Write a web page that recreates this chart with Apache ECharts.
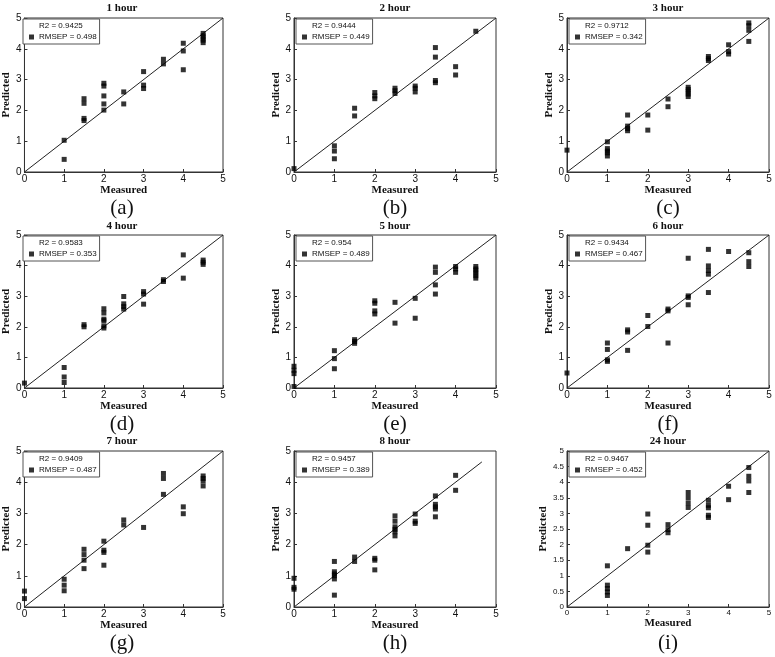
<!DOCTYPE html>
<html>
<head>
<meta charset="utf-8">
<script src="https://cdn.jsdelivr.net/npm/echarts@6/dist/echarts.min.js"></script>
<style>html,body{margin:0;padding:0;background:#fff;}#c{width:775px;height:657px;}</style>
</head>
<body>
<div id="c"></div>
<script>
// ---- data ----
const titles = ['1 hour','2 hour','3 hour','4 hour','5 hour','6 hour','7 hour','8 hour','24 hour'];
const panelLabels = ['(a)','(b)','(c)','(d)','(e)','(f)','(g)','(h)','(i)'];
const r2Values = ['0.9425','0.9444','0.9712','0.9583','0.954','0.9434','0.9409','0.9457','0.9467'];
const rmsepValues = ['0.498','0.449','0.342','0.353','0.489','0.467','0.487','0.389','0.452'];
const fitLineEnd = [5,5,5,5,5,5,5,4.65,5];

const data1h = [[1,1.03],[1,0.41],[1.5,2.38],[1.5,2.23],[1.5,1.74],[1.5,1.67],[2,2.88],[2,2.79],[2,2.47],[2,2.21],[2,2.01],[2.5,2.6],[2.5,2.21],[3,3.26],[3,2.82],[3,2.71],[3.5,3.66],[3.5,3.51],[4,4.18],[4,3.93],[4,3.32],[4.5,4.5],[4.5,4.42],[4.5,4.35],[4.5,4.28],[4.5,4.2]];
const data2h = [[0,0.11],[1,0.85],[1,0.68],[1,0.43],[1.5,2.07],[1.5,1.82],[2,2.58],[2,2.47],[2,2.38],[2.5,2.72],[2.5,2.64],[2.5,2.55],[3,2.79],[3,2.72],[3,2.6],[3.5,4.04],[3.5,3.73],[3.5,2.97],[3.5,2.9],[4,3.42],[4,3.15],[4.5,4.57]];
const data3h = [[0,0.71],[1,0.98],[1,0.76],[1,0.68],[1,0.62],[1,0.52],[1.5,1.85],[1.5,1.49],[1.5,1.41],[1.5,1.34],[2,1.85],[2,1.36],[2.5,2.37],[2.5,2.12],[3,2.75],[3,2.68],[3,2.61],[3,2.53],[3,2.45],[3.5,3.75],[3.5,3.68],[3.5,3.62],[4,4.13],[4,3.91],[4,3.83],[4.5,4.84],[4.5,4.75],[4.5,4.6],[4.5,4.24]];
const data4h = [[0,0.16],[1,0.67],[1,0.36],[1,0.18],[1.5,2.07],[1.5,2.0],[2,2.59],[2,2.45],[2,2.25],[2,2.2],[2,2.03],[2,1.96],[2.5,2.99],[2.5,2.75],[2.5,2.66],[2.5,2.58],[3,3.15],[3,3.07],[3,2.74],[3.5,3.54],[3.5,3.48],[4,4.35],[4,3.59],[4.5,4.18],[4.5,4.11],[4.5,4.04]];
const data5h = [[0,0.71],[0,0.58],[0,0.47],[0,0.05],[1,1.22],[1,0.96],[1,0.63],[1.5,1.58],[1.5,1.52],[1.5,1.46],[2,2.85],[2,2.77],[2,2.52],[2,2.42],[2.5,2.8],[2.5,2.12],[3,2.93],[3,2.28],[3.5,3.95],[3.5,3.78],[3.5,3.37],[3.5,3.07],[4,3.97],[4,3.89],[4,3.78],[4.5,3.97],[4.5,3.89],[4.5,3.83],[4.5,3.75],[4.5,3.67],[4.5,3.59]];
const data6h = [[0,0.49],[1,1.47],[1,1.26],[1,0.92],[1,0.87],[1.5,1.9],[1.5,1.83],[1.5,1.23],[2,2.37],[2,2.01],[2.5,2.58],[2.5,2.52],[2.5,1.47],[3,4.24],[3,3.01],[3,2.96],[3,2.72],[3.5,4.53],[3.5,3.99],[3.5,3.84],[3.5,3.72],[3.5,3.12],[4,4.46],[4.5,4.42],[4.5,4.13],[4.5,3.97]];
const data7h = [[0,0.51],[0,0.27],[1,0.89],[1,0.7],[1,0.52],[1.5,1.85],[1.5,1.68],[1.5,1.5],[1.5,1.23],[2,2.11],[2,1.82],[2,1.75],[2,1.34],[2.5,2.79],[2.5,2.63],[3,2.55],[3.5,4.28],[3.5,4.12],[3.5,3.61],[4,3.21],[4,2.99],[4.5,4.2],[4.5,4.12],[4.5,4.04],[4.5,3.88]];
const data8h = [[0,0.92],[0,0.63],[0,0.57],[1,1.46],[1,1.13],[1,1.06],[1,1.0],[1,0.9],[1,0.38],[1.5,1.6],[1.5,1.46],[2,1.56],[2,1.5],[2,1.19],[2.5,2.92],[2.5,2.75],[2.5,2.57],[2.5,2.49],[2.5,2.41],[2.5,2.28],[3,2.98],[3,2.75],[3,2.68],[3.5,3.56],[3.5,3.29],[3.5,3.21],[3.5,3.14],[3.5,2.89],[4,4.22],[4,3.74]];
const data24h = [[1,1.32],[1,0.7],[1,0.59],[1,0.48],[1,0.37],[1.5,1.87],[2,2.98],[2,2.62],[2,1.98],[2,1.76],[2.5,2.64],[2.5,2.48],[2.5,2.38],[3,3.67],[3,3.51],[3,3.34],[3,3.19],[3.5,3.42],[3.5,3.26],[3.5,3.18],[3.5,2.94],[3.5,2.87],[4,3.87],[4,3.44],[4.5,4.47],[4.5,4.19],[4.5,4.04],[4.5,3.67]];
const panelData = [data1h,data2h,data3h,data4h,data5h,data6h,data7h,data8h,data24h];
const yInterval = [1,1,1,1,1,1,1,1,0.5];

// ---- layout ----
const colLeft = [21, 294, 567];
const plotW = 202;
const rowTop = [18, 235, 451];
const rowH = [154, 153, 156];
const titleY = [3, 221, 436];
const labelY = [198, 414, 633];

const serif = "'Liberation Serif','Times New Roman',serif";
const sans = "'Liberation Sans',Arial,sans-serif";

const grid = [], xAxis = [], yAxis = [], series = [], title = [], legend = [];
for (let i = 0; i < 9; i++) {
  const r = Math.floor(i / 3), c = i % 3;
  const left = colLeft[c], top = rowTop[r], h = rowH[r];
  const small = i === 8;
  grid.push({left: left, top: top, width: plotW, height: h, show: true, borderColor: '#333', borderWidth: 1, containLabel: false});
  xAxis.push({
    type: 'value', gridIndex: i, min: 0, max: 5, interval: 1,
    name: 'Measured', nameLocation: 'middle', nameGap: small ? 10 : 9,
    nameTextStyle: {fontFamily: serif, fontWeight: 'bold', fontSize: 11, color: '#111'},
    axisLine: {show: true, lineStyle: {color: '#333', width: 1}},
    axisTick: {show: true, inside: true, length: 3, lineStyle: {color: '#333'}},
    axisLabel: {fontFamily: sans, fontSize: small ? 8 : 10, color: '#111', margin: 2},
    splitLine: {show: false}
  });
  yAxis.push({
    type: 'value', gridIndex: i, min: 0, max: 5, interval: yInterval[i],
    name: 'Predicted', nameLocation: 'middle', nameGap: small ? 15 : 10,
    nameTextStyle: {fontFamily: serif, fontWeight: 'bold', fontSize: 11, color: '#111'},
    axisLine: {show: true, lineStyle: {color: '#333', width: 1}},
    axisTick: {show: true, inside: true, length: 3, lineStyle: {color: '#333'}},
    axisLabel: {fontFamily: sans, fontSize: small ? 8 : 10, color: '#111', margin: 3},
    splitLine: {show: false}
  });
  const lineName = 'R2 = ' + r2Values[i];
  const ptName = 'RMSEP = ' + rmsepValues[i];
  series.push({
    type: 'line', name: lineName, xAxisIndex: i, yAxisIndex: i,
    data: [[0, 0], [fitLineEnd[i], fitLineEnd[i]]],
    symbol: 'none', lineStyle: {color: '#222', width: 1}, itemStyle: {color: '#222'},
    silent: true, z: 2
  });
  series.push({
    type: 'scatter', name: ptName, xAxisIndex: i, yAxisIndex: i,
    data: panelData[i], symbol: 'rect', symbolSize: 5,
    itemStyle: {color: '#000'}, z: 3
  });
  title.push({
    text: titles[i], left: left + plotW / 2, textAlign: 'center', top: titleY[r], padding: 0,
    textStyle: {fontFamily: serif, fontWeight: 'bold', fontSize: 11, color: '#111'}
  });
  title.push({
    text: panelLabels[i], left: left + plotW / 2, textAlign: 'center', top: labelY[r], padding: 0,
    textStyle: {fontFamily: serif, fontWeight: 'normal', fontSize: 21, color: '#111'}
  });
  legend.push({
    orient: 'vertical', left: left + 2, top: top + 1,
    padding: [2, 3, 2, 6], itemGap: 1, itemWidth: 5, itemHeight: 5,
    borderColor: '#555', borderWidth: 1, backgroundColor: '#fff',
    selectedMode: false,
    textStyle: {fontFamily: sans, fontSize: 8, color: '#111', lineHeight: 10},
    data: [{name: lineName, icon: 'none'}, {name: ptName, icon: 'rect', itemStyle: {color: '#000'}}]
  });
}

const chart = echarts.init(document.getElementById('c'), null, {renderer: 'canvas'});
chart.setOption({
  animation: false,
  backgroundColor: '#fff',
  title: title, legend: legend, grid: grid, xAxis: xAxis, yAxis: yAxis, series: series
});
</script>
</body>
</html>
